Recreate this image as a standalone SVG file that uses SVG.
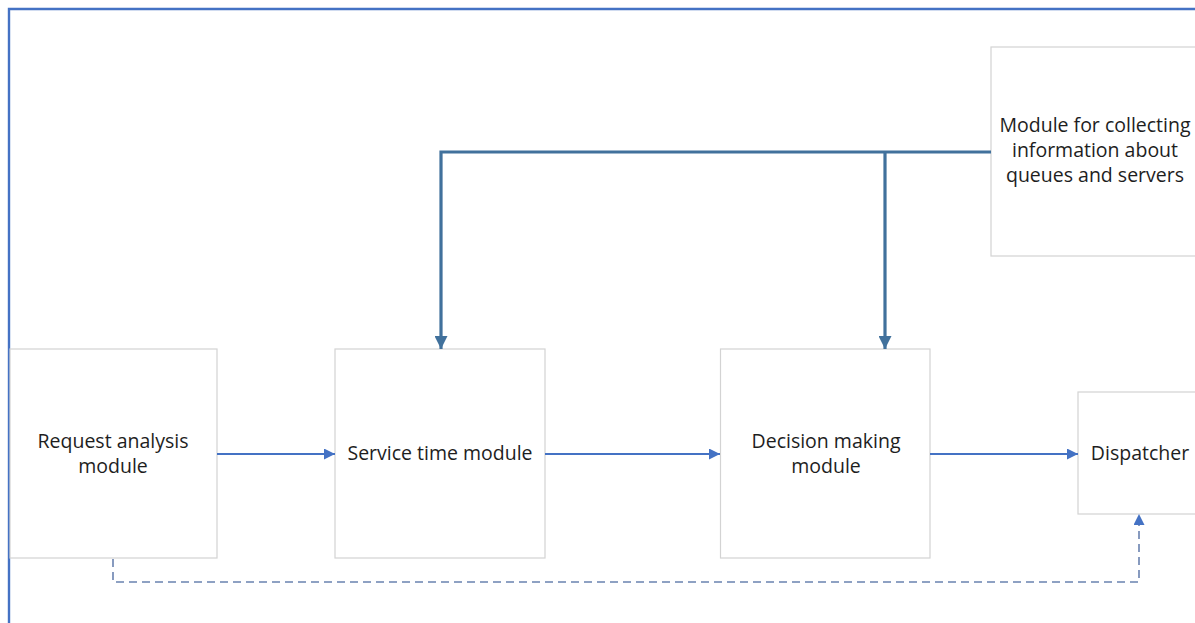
<svg xmlns="http://www.w3.org/2000/svg" width="1195" height="623" viewBox="0 0 1195 623">
  <style>
    .box { fill: #ffffff; stroke: #d3d3d3; stroke-width: 1.2; }
    .label { font-family: "Open Sans", "Noto Sans", sans-serif; font-size: 19.5px; fill: #1e1e1e; text-anchor: middle; }
    .flow { fill: none; stroke: #4472C4; stroke-width: 1.8; }
    .feed { fill: none; stroke: #41719C; stroke-width: 3.2; }
    .dash { fill: none; stroke: #6a82b0; stroke-width: 1.6; stroke-dasharray: 8 5; }
    .frame { fill: none; stroke: #4472C4; stroke-width: 2.4; }
  </style>
  <defs>
    <marker id="arrowThin" viewBox="0 0 10 10" refX="10" refY="5" markerWidth="12" markerHeight="11" markerUnits="userSpaceOnUse" orient="auto">
      <path d="M0,0 L10,5 L0,10 z" fill="#4472C4"/>
    </marker>
    <marker id="arrowThick" viewBox="0 0 10 10" refX="10" refY="5" markerWidth="14" markerHeight="13" markerUnits="userSpaceOnUse" orient="auto">
      <path d="M0,0 L10,5 L0,10 z" fill="#41719C"/>
    </marker>
    <marker id="arrowDash" viewBox="0 0 10 10" refX="10" refY="5" markerWidth="12" markerHeight="11" markerUnits="userSpaceOnUse" orient="auto">
      <path d="M0,0 L10,5 L0,10 z" fill="#4472C4"/>
    </marker>
  </defs>

  <rect width="1195" height="623" fill="#ffffff"/>

  <!-- outer frame -->
  <path class="frame" d="M9,623 V9 H1195"/>

  <g id="node-request">
    <rect class="box" x="10" y="349" width="207" height="209"/>
    <text class="label" x="113" y="448">Request analysis</text>
    <text class="label" x="113" y="473">module</text>
  </g>

  <g id="node-service">
    <rect class="box" x="335" y="349" width="210" height="209"/>
    <text class="label" x="440" y="460">Service time module</text>
  </g>

  <g id="node-decision">
    <rect class="box" x="720.5" y="349" width="209.5" height="209"/>
    <text class="label" x="826" y="448">Decision making</text>
    <text class="label" x="826" y="473">module</text>
  </g>

  <g id="node-dispatcher">
    <rect class="box" x="1078" y="392" width="125" height="122"/>
    <text class="label" x="1140" y="460">Dispatcher</text>
  </g>

  <g id="node-collector">
    <rect class="box" x="991" y="47" width="212" height="209"/>
    <text class="label" x="1095" y="132">Module for collecting</text>
    <text class="label" x="1095" y="157">information about</text>
    <text class="label" x="1095" y="182">queues and servers</text>
  </g>

  <g id="connectors">
    <path class="feed" d="M991,152 H441 V349" marker-end="url(#arrowThick)"/>
    <path class="feed" d="M885,152 V349" marker-end="url(#arrowThick)"/>
    <path class="flow" d="M217,454 H335" marker-end="url(#arrowThin)"/>
    <path class="flow" d="M545,454 H720" marker-end="url(#arrowThin)"/>
    <path class="flow" d="M930,454 H1078" marker-end="url(#arrowThin)"/>
    <path class="dash" d="M113,559 V582 H1139 V514" marker-end="url(#arrowDash)"/>
  </g>
</svg>
